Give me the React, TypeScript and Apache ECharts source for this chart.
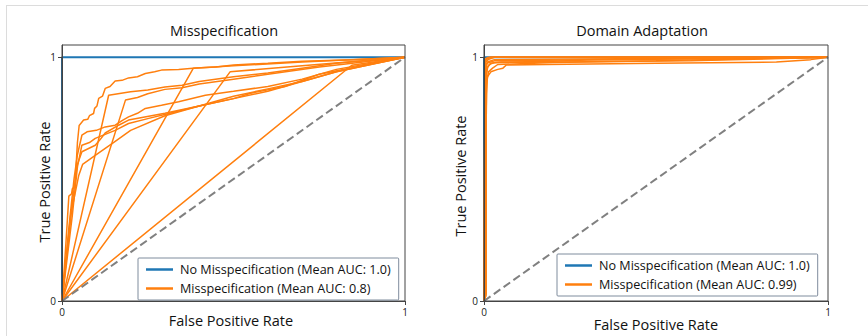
import React, { useEffect, useRef } from "react";
import * as echarts from "echarts";

const TITLES = ["Misspecification", "Domain Adaptation"];
const X_LABEL = "False Positive Rate";
const Y_LABEL = "True Positive Rate";
const LEGEND_NO = "No Misspecification (Mean AUC: 1.0)";
const LEGEND_MIS = ["Misspecification (Mean AUC: 0.8)", "Misspecification (Mean AUC: 0.99)"];
const TICKS = [0, 1];

const PERFECT_ROC = [[0, 0], [0, 1], [1, 1]];
const CHANCE_ROC = [[0, 0], [1, 1]];

// Left panel: misspecified runs
const MIS_A = [[0,0],[0.005,0.1],[0.012,0.25],[0.02,0.43],[0.028,0.44],[0.03,0.46],[0.038,0.47],[0.041,0.55],[0.045,0.65],[0.05,0.72],[0.063,0.742],[0.075,0.745],[0.08,0.76],[0.092,0.769],[0.095,0.79],[0.102,0.8],[0.107,0.831],[0.118,0.84],[0.126,0.872],[0.14,0.88],[0.155,0.902],[0.175,0.905],[0.194,0.915],[0.22,0.92],[0.243,0.933],[0.27,0.94],[0.29,0.947],[0.34,0.95],[0.39,0.956],[0.45,0.96],[0.5,0.968],[0.6,0.975],[0.7,0.983],[0.85,0.99],[1,1]];
const MIS_B = [[0,0],[0.136,0.844],[0.2,0.858],[0.25,0.865],[0.3,0.878],[0.35,0.885],[0.4,0.9],[0.5,0.92],[0.6,0.935],[0.7,0.955],[0.8,0.975],[1,1]];
const MIS_C = [[0,0],[0.185,0.824],[0.22,0.835],[0.25,0.85],[0.3,0.868],[0.35,0.875],[0.4,0.89],[0.5,0.91],[0.6,0.93],[0.75,0.96],[1,1]];
const MIS_D = [[0,0],[0.383,0.955],[0.5,0.965],[0.7,0.98],[1,1]];
const MIS_E = [[0,0],[0.49,0.94],[0.7,0.965],[1,1]];
const MIS_F = [[0,0],[0.845,0.967],[1,1]];
const MIS_G1 = [[0,0],[0.02,0.3],[0.035,0.5],[0.045,0.6],[0.058,0.68],[0.073,0.694],[0.1,0.7],[0.126,0.714],[0.155,0.721],[0.175,0.74],[0.194,0.755],[0.22,0.77],[0.243,0.79],[0.29,0.803],[0.34,0.817],[0.418,0.844],[0.5,0.86],[0.6,0.88],[0.7,0.91],[0.8,0.95],[1,1]];
const MIS_G2 = [[0,0],[0.03,0.35],[0.045,0.55],[0.058,0.639],[0.08,0.65],[0.097,0.667],[0.155,0.7],[0.194,0.728],[0.253,0.749],[0.311,0.769],[0.4,0.8],[0.5,0.83],[0.6,0.86],[0.7,0.9],[0.8,0.94],[1,1]];
const MIS_G3 = [[0,0],[0.03,0.4],[0.044,0.557],[0.058,0.612],[0.097,0.639],[0.11,0.66],[0.126,0.689],[0.165,0.721],[0.194,0.742],[0.3,0.77],[0.4,0.8],[0.5,0.83],[0.55,0.852],[0.65,0.88],[0.75,0.93],[1,1]];
const MIS_G4 = [[0,0],[0.025,0.35],[0.049,0.516],[0.06,0.56],[0.1,0.6],[0.15,0.65],[0.2,0.7],[0.3,0.76],[0.4,0.8],[0.5,0.84],[0.6,0.87],[0.7,0.9],[0.8,0.94],[1,1]];
const MIS_CURVES = [MIS_A, MIS_B, MIS_C, MIS_D, MIS_E, MIS_F, MIS_G1, MIS_G2, MIS_G3, MIS_G4];

// Right panel: domain adaptation runs
const DA_1 = [[0,0],[0.004,0.02],[0.005,0.6],[0.007,0.85],[0.01,0.92],[0.02,0.94],[0.04,0.95],[0.055,0.955],[0.065,0.968],[0.18,0.97],[0.5,0.975],[0.85,0.98],[0.95,0.99],[1,1]];
const DA_2 = [[0,0],[0.005,0.03],[0.006,0.7],[0.008,0.9],[0.013,0.94],[0.025,0.955],[0.04,0.97],[0.2,0.978],[0.5,0.985],[1,1]];
const DA_3 = [[0,0],[0.005,0.02],[0.005,0.8],[0.007,0.93],[0.011,0.96],[0.02,0.975],[0.05,0.98],[0.18,0.982],[0.3,0.988],[1,1]];
const DA_4 = [[0,0],[0.004,0.9],[0.006,0.96],[0.01,0.98],[0.03,0.99],[0.5,0.995],[1,1]];
const DA_5 = [[0,0],[0.003,0.95],[0.005,0.98],[0.012,0.99],[0.03,1],[1,1]];
const DA_6 = [[0,0],[0.003,0.97],[0.006,0.99],[0.02,1],[1,1]];
const DA_7 = [[0,0],[0.005,0.02],[0.005,0.94],[0.008,0.975],[0.03,0.985],[0.3,0.99],[1,1]];
const DA_8 = [[0,0],[0.003,0.98],[0.006,0.995],[0.015,1],[1,1]];
const DA_9 = [[0,0],[0.006,0.03],[0.006,0.92],[0.009,0.955],[0.015,0.97],[0.03,0.978],[0.6,0.985],[1,1]];
const DA_10 = [[0,0],[0.003,0.99],[0.01,0.997],[0.025,1],[1,1]];
const DA_CURVES = [DA_1, DA_2, DA_3, DA_4, DA_5, DA_6, DA_7, DA_8, DA_9, DA_10];

const BLUE = "#1f77b4";
const ORANGE = "#ff7f0e";
const FONT = "Open Sans";

const GRIDS = [
  { left: 62, top: 45, width: 343, height: 256 },
  { left: 484, top: 45, width: 344, height: 256 },
];

export default function App() {
  const ref = useRef<HTMLDivElement>(null);
  useEffect(() => {
    if (!ref.current) return;
    const chart = echarts.init(ref.current, undefined, { renderer: "svg" });
    const panels = [MIS_CURVES, DA_CURVES];
    const series: any[] = [];
    panels.forEach((curves, i) => {
      series.push({
        type: "line", name: LEGEND_NO, xAxisIndex: i, yAxisIndex: i,
        data: PERFECT_ROC, showSymbol: false, symbol: "none",
        lineStyle: { color: BLUE, width: 2 }, itemStyle: { color: BLUE }, z: 2,
      });
      curves.forEach((c) => {
        series.push({
          type: "line", name: LEGEND_MIS[i], xAxisIndex: i, yAxisIndex: i,
          data: c, showSymbol: false, symbol: "none",
          lineStyle: { color: ORANGE, width: 1.5 }, itemStyle: { color: ORANGE }, z: 3,
        });
      });
      series.push({
        type: "line", xAxisIndex: i, yAxisIndex: i, data: CHANCE_ROC,
        showSymbol: false, symbol: "none",
        lineStyle: { color: "#808080", width: 2, type: [8, 4] }, z: 4,
      });
    });

    const axisCommon = {
      type: "value", min: 0, z: 10,
      axisLine: { show: true, lineStyle: { color: "#444", width: 1 } },
      axisTick: { show: true, length: 4, lineStyle: { color: "#444" }, customValues: TICKS },
      axisLabel: { color: "#222", fontSize: 10, fontFamily: FONT, customValues: TICKS, margin: 6 },
      splitLine: { show: false },
    };

    const legends = [
      { left: 138, top: 258, data: [LEGEND_NO, LEGEND_MIS[0]] },
      { left: 557, top: 254, data: [LEGEND_NO, LEGEND_MIS[1]] },
    ].map((l) => ({
      left: l.left, top: l.top, orient: "vertical",
      data: l.data.map((n) => ({ name: n, icon: "rect" })),
      itemWidth: 27, itemHeight: 2.5, itemGap: 4,
      padding: [4, 8, 4, 8],
      borderColor: "#7f8c9d", borderWidth: 1, borderRadius: 1,
      backgroundColor: "#fff",
      textStyle: { fontSize: 12.6, lineHeight: 15, fontFamily: FONT, color: "#111", padding: [0, 0, 0, 2] },
      selectedMode: false,
      z: 20,
    }));

    const textG = (x: number, y: number, t: string, size: number, rot = 0) => ({
      type: "text", x, y, rotation: rot,
      style: { text: t, fontSize: size, fontFamily: FONT, fill: "#111", textAlign: "center", textVerticalAlign: "middle" },
    });

    chart.setOption({
      animation: false,
      backgroundColor: "#fff",
      grid: GRIDS.map((g) => ({ ...g, show: true, borderColor: "#444", borderWidth: 1, backgroundColor: "transparent", z: 10 })),
      xAxis: GRIDS.map((_, i) => ({ ...axisCommon, gridIndex: i, max: 1 })),
      yAxis: GRIDS.map((_, i) => ({ ...axisCommon, gridIndex: i, max: 1.05 })),
      legend: legends,
      series,
      graphic: [
        { type: "line", shape: { x1: 6, y1: 5.5, x2: 868, y2: 5.5 }, style: { stroke: "#dcdcdc", lineWidth: 1 } },
        { type: "line", shape: { x1: 6.5, y1: 5, x2: 6.5, y2: 336 }, style: { stroke: "#dcdcdc", lineWidth: 1 } },
        textG(224, 30, TITLES[0], 14.5),
        textG(642, 30, TITLES[1], 14.5),
        textG(231, 320, X_LABEL, 14.5),
        textG(656, 324, X_LABEL, 14.5),
        textG(44, 182, Y_LABEL, 14.5, Math.PI / 2),
        textG(460, 176, Y_LABEL, 14.5, Math.PI / 2),
      ],
    });
    return () => chart.dispose();
  }, []);
  return <div ref={ref} style={{ position: "absolute", left: 0, top: 0, width: 868, height: 336 }} />;
}
